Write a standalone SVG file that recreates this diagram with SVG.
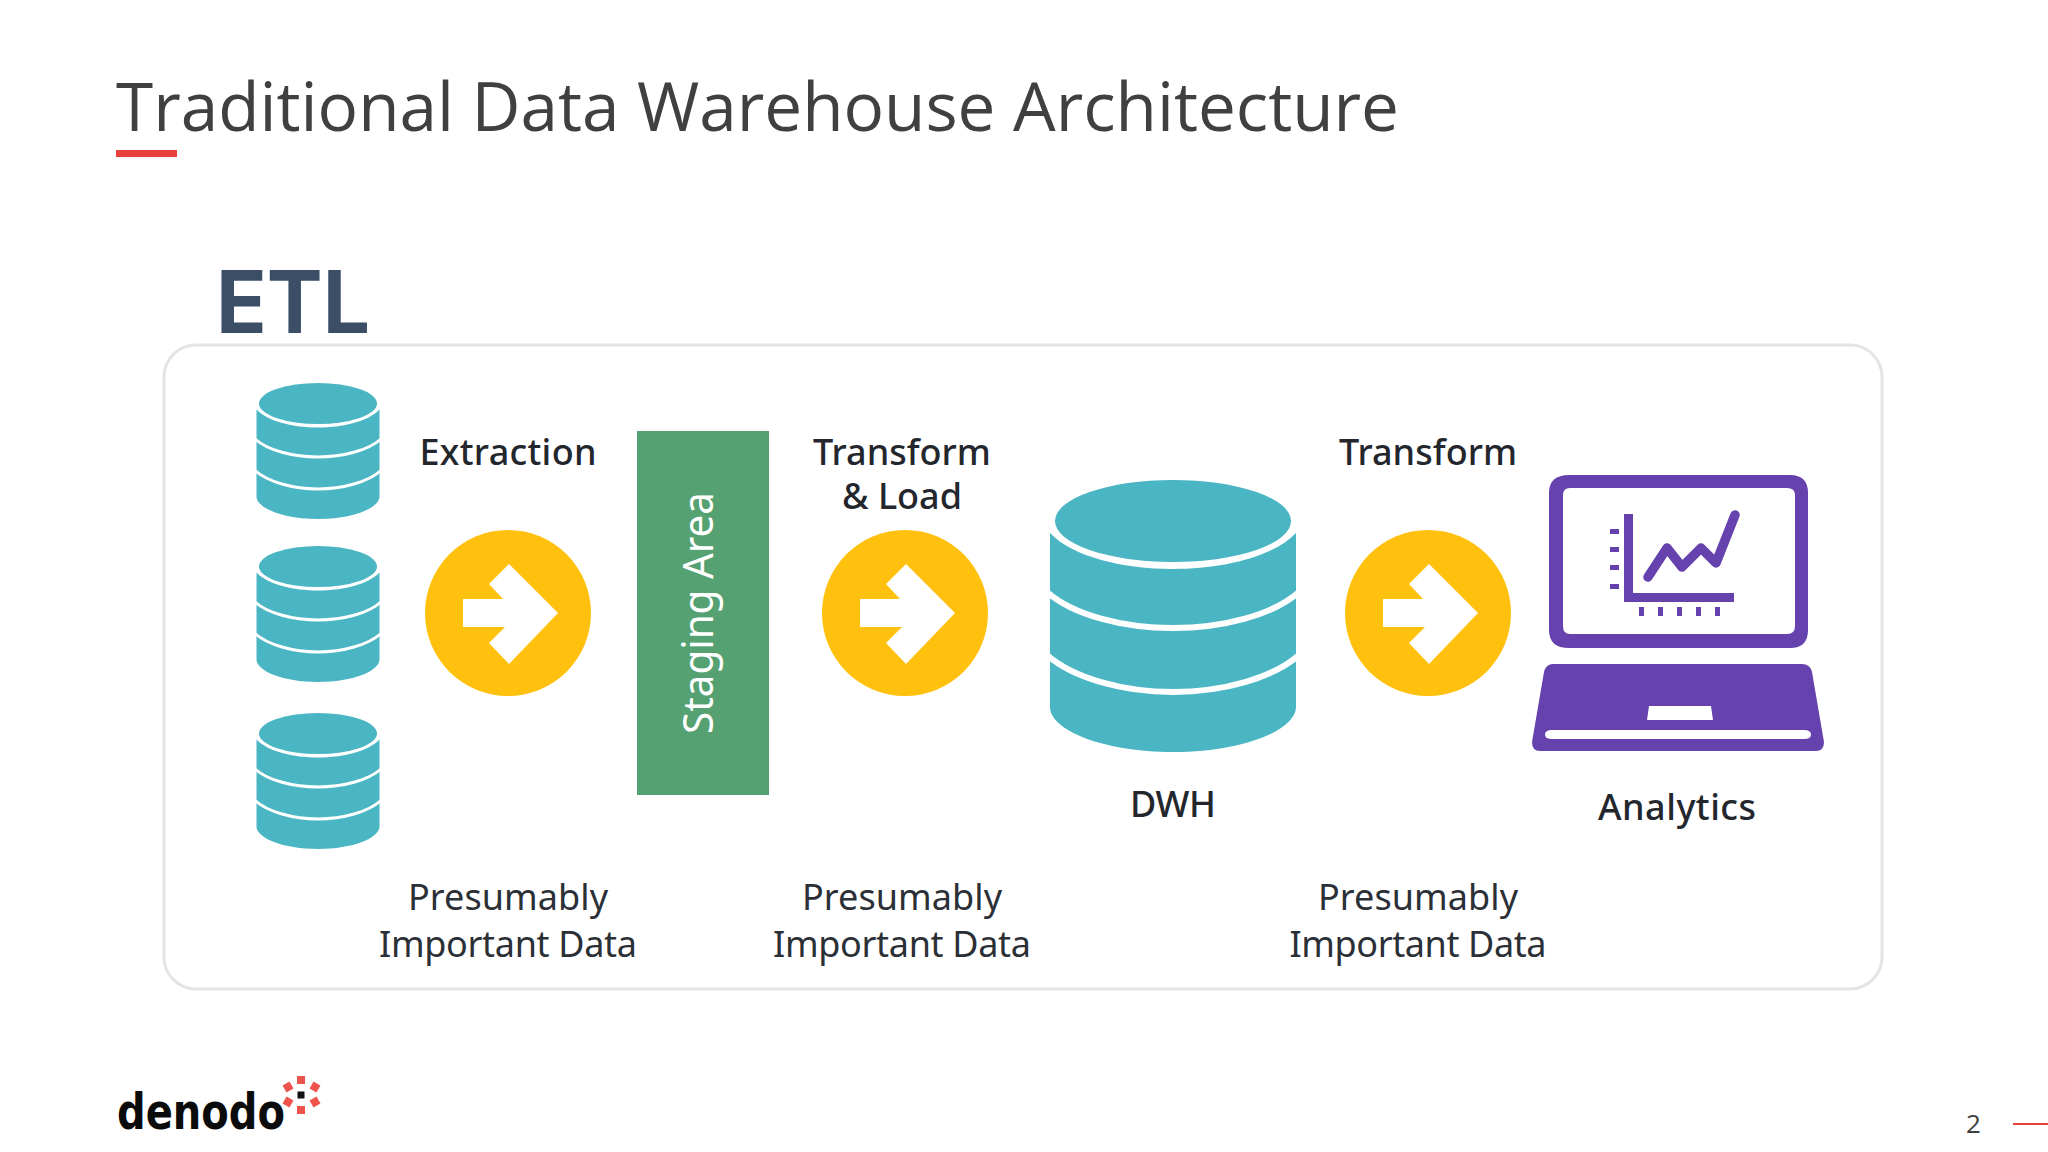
<svg xmlns="http://www.w3.org/2000/svg" width="2048" height="1152" viewBox="0 0 2048 1152">
<defs>
<style>
.lbl{font-family:"Noto Sans","Open Sans",sans-serif;font-size:36px;fill:#2b2f36;text-anchor:middle}
.hd{font-weight:500;fill:#23272d}
.teal{fill:#4ab6c4}
.wl{fill:none;stroke:#fff;stroke-width:6}
.pur{fill:#6642ae}
.wht{fill:#fff}
.red{fill:#ee534c}
</style>
<g id="cyl">
<path class="teal" d="M-123 53C-100 77-50 89 0 89S100 77 123 53V227C123 250 70 272 0 272S-123 250-123 227Z"/>
<ellipse class="teal" cx="0" cy="41" rx="118" ry="41"/>
<path class="wl" d="M-126 112C-100 135-50 148 0 148S100 135 126 112"/>
<path class="wl" d="M-126 175C-100 198-50 212 0 212S100 198 126 175"/>
</g>
<g id="arrow">
<circle r="83" fill="#ffc10e"/>
<path class="wht" d="M-45-14H-5L-19-29 1-49 50 0 1 51-19 30-3 14H-45Z"/>
</g>
</defs>
<rect width="2048" height="1152" fill="#fff"/>
<text x="116" y="131" font-size="68" fill="#404040" font-family="Open Sans, sans-serif" textLength="1283" lengthAdjust="spacingAndGlyphs">Traditional Data Warehouse Architecture</text>
<rect x="116" y="150" width="61" height="7" fill="#e8403b"/>
<text x="216" y="333" font-size="86" font-weight="700" fill="#3c4e66" font-family="Inter, sans-serif" textLength="154" lengthAdjust="spacingAndGlyphs">ETL</text>
<rect id="panel" x="164" y="345" width="1718" height="644" rx="32" fill="#fff" stroke="#e2e4e6" stroke-width="3"/>
<g id="connectors"></g>
<g id="source1"><use href="#cyl" transform="translate(318 383) scale(.5)"/></g>
<g id="source2"><use href="#cyl" transform="translate(318 546) scale(.5)"/></g>
<g id="source3"><use href="#cyl" transform="translate(318 713) scale(.5)"/></g>
<g id="extraction">
<text class="lbl hd" x="508" y="465" textLength="177">Extraction</text>
<use href="#arrow" x="508" y="613"/>
</g>
<g id="staging">
<rect x="637" y="431" width="132" height="364" fill="#55a172"/>
<text transform="translate(713 613) rotate(-90)" font-family="Noto Sans, sans-serif" font-size="42" fill="#fff" text-anchor="middle" textLength="242" lengthAdjust="spacingAndGlyphs">Staging Area</text>
</g>
<g id="transform-load">
<text class="lbl hd"><tspan x="902" y="465">Transform</tspan><tspan x="902" y="509">&amp; Load</tspan></text>
<use href="#arrow" x="905" y="613"/>
</g>
<g id="dwh">
<use href="#cyl" x="1173" y="480"/>
<text class="lbl hd" x="1173" y="817" textLength="86">DWH</text>
</g>
<g id="transform">
<text class="lbl hd" x="1428" y="465" textLength="178">Transform</text>
<use href="#arrow" x="1428" y="613"/>
</g>
<g id="analytics">
<path class="pur" fill-rule="evenodd" d="M1569 475H1790Q1808 475 1808 493V630Q1808 648 1790 648H1569Q1549 648 1549 630V493Q1549 475 1569 475ZM1570 488Q1563 488 1563 495V626Q1563 634 1570 634H1787Q1795 634 1795 626V495Q1795 488 1787 488Z"/>
<path class="pur" d="M1624 514h9v79h101v9h-110Z"/>
<path class="pur" d="M1610 529h9v5h-9zM1610 547h9v5h-9zM1610 565h9v5h-9zM1610 584h9v5h-9zM1639 607h5v9h-5zM1658 607h5v9h-5zM1677 607h5v9h-5zM1696 607h5v9h-5zM1715 607h5v9h-5z"/>
<path d="M1648 577L1667 548L1682 567L1701 548L1716 563L1735 515" fill="none" stroke="#6642ae" stroke-width="9.5" stroke-linecap="round" stroke-linejoin="round"/>
<path class="pur" fill-rule="evenodd" d="M1553 664H1802Q1810 664 1812 672L1824 742Q1824 751 1816 751H1540Q1532 751 1532 742L1544 672Q1546 664 1553 664ZM1649 706L1647 720H1713L1711 706ZM1552 730Q1545 730 1545 734.500Q1545 739 1552 739H1804Q1811 739 1811 734.500Q1811 730 1804 730Z"/>
<text class="lbl hd" x="1677" y="820" textLength="158">Analytics</text>
</g>
<g id="notes">
<text class="lbl" x="508" y="910" textLength="200">Presumably</text>
<text class="lbl" x="508" y="957" textLength="258">Important Data</text>
<text class="lbl" x="902" y="910" textLength="200">Presumably</text>
<text class="lbl" x="902" y="957" textLength="258">Important Data</text>
<text class="lbl" x="1418" y="910" textLength="200">Presumably</text>
<text class="lbl" x="1418" y="957" textLength="257">Important Data</text>
</g>
<g id="logo">
<text x="117" y="1129" font-family="DejaVu Sans, sans-serif" font-size="50" font-weight="700" fill="#0b0b0b" textLength="168" lengthAdjust="spacingAndGlyphs">denodo</text>
<rect x="297.500" y="1091.500" width="7" height="7" fill="#111"/>
<rect class="red" x="297" y="1076" width="8" height="8"/>
<rect class="red" x="297" y="1106" width="8" height="8"/>
<rect class="red" x="284" y="1083" width="8" height="8" transform="rotate(-30 288 1087)"/>
<rect class="red" x="311" y="1083" width="8" height="8" transform="rotate(30 315 1087)"/>
<rect class="red" x="284" y="1098" width="8" height="8" transform="rotate(30 288 1102)"/>
<rect class="red" x="311" y="1098" width="8" height="8" transform="rotate(-30 315 1102)"/>
</g>
<g id="page">
<text x="1966" y="1133" font-family="Open Sans, sans-serif" font-size="26" fill="#404040">2</text>
<rect x="2013" y="1123" width="35" height="2" fill="#e8403b"/>
</g>
</svg>
